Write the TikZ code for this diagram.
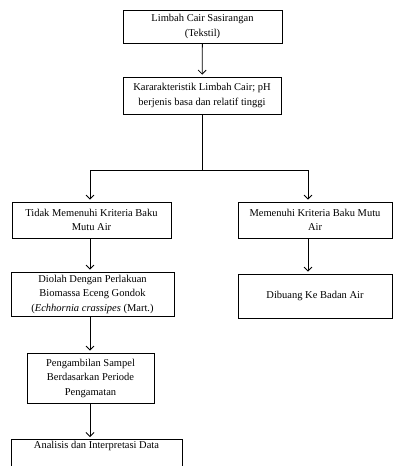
\documentclass[tikz,border=0pt]{standalone}
\usepackage{fontspec}
\setmainfont{Liberation Serif}
\usetikzlibrary{arrows.meta}

\begin{document}
\begin{tikzpicture}[x=1pt, y=-1pt,
		box/.style = {draw, line width=0.8pt, align=center, inner sep=2pt,
			font=\fontsize{10.5}{14.5}\selectfont},
		arr/.style = {line width=0.8pt, -{Straight Barb[length=4pt, width=8pt]}, shorten >=2pt},
		lin/.style = {line width=0.8pt}]
		\useasboundingbox (0,0) rectangle (393,466);

		% columns of the arrows
		\coordinate (lcol) at (90,0);
		\coordinate (rcol) at (308,0);
		\coordinate (split) at (202,170);

		\node [box, minimum width=159pt, minimum height=33pt] (src) at (202.5,26.5)
			{Limbah Cair Sasirangan\\(Tekstil)};

		\node [box, minimum width=158pt, minimum height=37pt] (krt) at (202,95.5)
			{Kararakteristik Limbah Cair; pH\\berjenis basa dan relatif tinggi};

		\node [box, minimum width=159pt, minimum height=36pt] (tdk) at (91.5,220)
			{Tidak Memenuhi Kriteria Baku\\Mutu Air};

		\node [box, minimum width=154pt, minimum height=36pt] (mmn) at (315,220)
			{Memenuhi Kriteria Baku Mutu\\Air};

		\node [box, minimum width=163pt, minimum height=44pt] (dio) at (92.5,294)
			{Diolah Dengan Perlakuan\\Biomassa Eceng Gondok\\(\textit{Echhornia crassipes} (Mart.)};

		\node [box, minimum width=154pt, minimum height=44pt] (dib) at (315,296)
			{Dibuang Ke Badan Air};

		\node [box, minimum width=127pt, minimum height=50pt] (amb) at (90.5,378)
			{Pengambilan Sampel\\Berdasarkan Periode\\Pengamatan};

		\node [box, minimum width=171pt, text depth=32pt, anchor=north] (ana) at (96.5,439)
			{Analisis dan Interpretasi Data};

		% connectors
		\draw [arr] (src) -- (krt);
		\draw [lin] (krt) -- (split);
		\draw [arr] (split) -| (tdk.north -| lcol);
		\draw [arr] (split) -| (mmn.north -| rcol);
		\draw [arr] (tdk.south -| lcol) -- (dio.north -| lcol);
		\draw [arr] (mmn.south -| rcol) -- (dib.north -| rcol);
		\draw [arr] (dio.south -| lcol) -- (amb.north -| lcol);
		\draw [arr] (amb.south -| lcol) -- (ana.north -| lcol);
	\end{tikzpicture}
\end{document}
